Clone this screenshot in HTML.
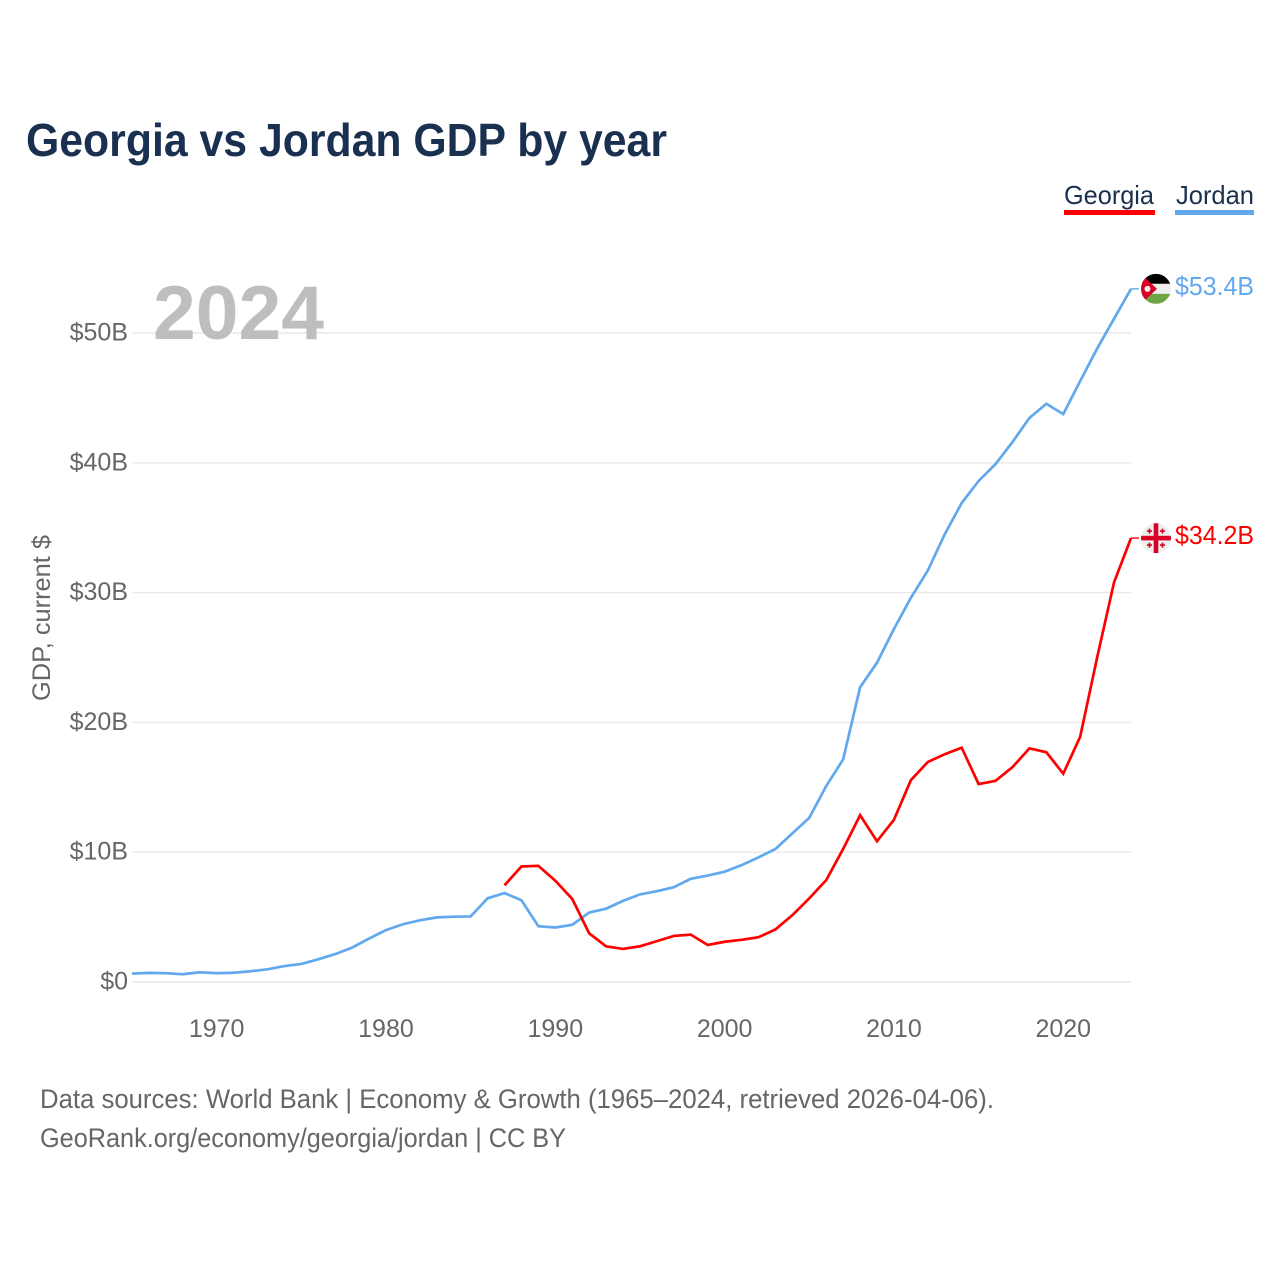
<!DOCTYPE html>
<html lang="en">
<head>
<meta charset="utf-8">
<title>Georgia vs Jordan GDP by year</title>
<style>
html,body{margin:0;padding:0;background:#fff;}
svg{display:block;font-family:"Liberation Sans",sans-serif;}
</style>
</head>
<body>
<svg id="chart" xmlns="http://www.w3.org/2000/svg" width="1280" height="1280" viewBox="0 0 1280 1280">
  <defs>
    <clipPath id="flag-clip-jordan"><circle cx="0" cy="0" r="15"/></clipPath>
    <clipPath id="flag-clip-georgia"><circle cx="0" cy="0" r="15"/></clipPath>
  </defs>
  <rect width="1280" height="1280" fill="#fff"/>
  <text x="26" y="156" font-size="46" font-weight="700" fill="#1a3050" textLength="641" lengthAdjust="spacingAndGlyphs">Georgia vs Jordan GDP by year</text>

  <g>
    <g>
      <text x="1064" y="204" font-size="26" fill="#1a3050" textLength="90" lengthAdjust="spacingAndGlyphs">Georgia</text>
      <rect x="1064" y="210" width="91" height="5" fill="#ff0000"/>
    </g>
    <g>
      <text x="1176" y="204" font-size="26" fill="#1a3050" textLength="78" lengthAdjust="spacingAndGlyphs">Jordan</text>
      <rect x="1175" y="210" width="79" height="5" fill="#62a8ee"/>
    </g>
  </g>

  <g id="grid"></g>
  <g id="yticks"></g>
  <g id="xticks"></g>

  <text x="153" y="339" font-size="76" font-weight="700" fill="#bebebe" textLength="171" lengthAdjust="spacingAndGlyphs">2024</text>
  <text transform="translate(50,701) rotate(-90)" font-size="25" fill="#666666" textLength="166" lengthAdjust="spacingAndGlyphs">GDP, current $</text>

  <g id="series"></g>

  <g id="flag-jordan">
    <g clip-path="url(#flag-clip-jordan)">
      <rect x="-15" y="-15" width="30" height="10" fill="#000000"/>
      <rect x="-15" y="-5" width="30" height="10" fill="#eeeeee"/>
      <rect x="-15" y="5" width="30" height="10" fill="#6da544"/>
      <polygon points="-15,-15 1,0 -15,15" fill="#d80027"/>
      <circle cx="-8.5" cy="0" r="3" fill="#eeeeee"/>
    </g>
  </g>
  <g id="flag-georgia">
    <g clip-path="url(#flag-clip-georgia)">
      <circle r="15" fill="#eeeeee"/>
      <rect x="-2.3" y="-15" width="4.6" height="30" fill="#d80027"/>
      <rect x="-15" y="-2.3" width="30" height="4.6" fill="#d80027"/>
      <path d="M-6.5-9.5v5M-9-7h5M6.5-9.5v5M4-7h5M-6.5 4.5v5M-9 7h5M6.5 4.5v5M4 7h5" fill="none" stroke="#d80027" stroke-width="1.7"/>
    </g>
  </g>
  <text id="value-jordan" x="1175" font-size="26" fill="#62a8ee" textLength="79" lengthAdjust="spacingAndGlyphs"></text>
  <text id="value-georgia" x="1175" font-size="26" fill="#ff0000" textLength="79" lengthAdjust="spacingAndGlyphs"></text>

  <g>
    <text x="40" y="1108" font-size="26.5" fill="#666666" textLength="954" lengthAdjust="spacingAndGlyphs">Data sources: World Bank | Economy &amp; Growth (1965–2024, retrieved 2026-04-06).</text>
    <text x="40" y="1147" font-size="26.5" fill="#666666" textLength="526" lengthAdjust="spacingAndGlyphs">GeoRank.org/economy/georgia/jordan | CC BY</text>
  </g>
</svg>
<script>
const jordanStartYear = 1965;
const georgiaStartYear = 1987;
const jordanValues = [0.65,0.7,0.68,0.6,0.75,0.68,0.71,0.83,0.98,1.23,1.39,1.75,2.15,2.65,3.35,4.0,4.45,4.75,4.98,5.03,5.05,6.45,6.85,6.3,4.3,4.2,4.4,5.35,5.65,6.25,6.75,7.0,7.3,7.95,8.2,8.5,9.0,9.6,10.25,11.45,12.65,15.1,17.15,22.7,24.6,27.2,29.6,31.7,34.5,36.9,38.6,39.9,41.6,43.45,44.55,43.75,46.3,48.8,51.1,53.4];
const georgiaValues = [7.45,8.9,8.95,7.8,6.4,3.75,2.75,2.55,2.75,3.15,3.55,3.65,2.85,3.1,3.25,3.45,4.05,5.15,6.45,7.85,10.25,12.85,10.85,12.5,15.55,16.95,17.55,18.05,15.25,15.5,16.55,18.0,17.7,16.05,18.9,25.0,30.8,34.2];
const yTickValues = [0,10,20,30,40,50];
const yTickLabels = ["$0","$10B","$20B","$30B","$40B","$50B"];
const xTickValues = [1970,1980,1990,2000,2010,2020];
const xTickLabels = ["1970","1980","1990","2000","2010","2020"];

const NS = "http://www.w3.org/2000/svg";
function xScale(year){ return 132 + (year - 1965) * (1131 - 132) / 59; }
function yScale(v){ return 982 - v * 12.98; }
function mk(tag, attrs, parent){
  const el = document.createElementNS(NS, tag);
  for (const k in attrs) el.setAttribute(k, attrs[k]);
  parent.appendChild(el);
  return el;
}
const grid = document.getElementById("grid");
const yticks = document.getElementById("yticks");
const xticks = document.getElementById("xticks");
const series = document.getElementById("series");

yTickValues.forEach(function(v, i){
  const line = mk("line", {x1:132, x2:1131, y1:yScale(v), y2:yScale(v), stroke:"#e9e9e9", "stroke-width":1.4}, grid);
  
  
  const t = mk("text", {x:128, y:yScale(v) + 7.5, "text-anchor":"end", "font-size":25, fill:"#666666"}, yticks);
  
  
  t.textContent = yTickLabels[i];
});
xTickValues.forEach(function(y, i){
  const t = mk("text", {x:xScale(y), y:1037, "text-anchor":"middle", "font-size":25, fill:"#666666"}, xticks);
  
  
  t.textContent = xTickLabels[i];
});
function drawLine(values, startYear, color, name, flagId, valueId){
  const pts = values.map(function(v, i){ return xScale(startYear + i).toFixed(2) + "," + yScale(v).toFixed(2); });
  const last = values[values.length - 1];
  const lastY = yScale(last);
  const p = mk("polyline", {points:pts.join(" "), fill:"none", stroke:color, "stroke-width":2.7, "stroke-linejoin":"miter"}, series);
  
  
  const c = mk("line", {x1:xScale(2024), x2:1139, y1:lastY, y2:lastY, stroke:color, "stroke-width":1.4}, series);
  
  
  document.getElementById(flagId).setAttribute("transform", "translate(1156," + lastY + ")");
  const label = document.getElementById(valueId);
  label.setAttribute("y", lastY + 6);
  label.textContent = "$" + last.toFixed(1) + "B";
}
drawLine(jordanValues, jordanStartYear, "#62a8ee", "jordan-line", "flag-jordan", "value-jordan");
drawLine(georgiaValues, georgiaStartYear, "#ff0000", "georgia-line", "flag-georgia", "value-georgia");
</script>
</body>
</html>
